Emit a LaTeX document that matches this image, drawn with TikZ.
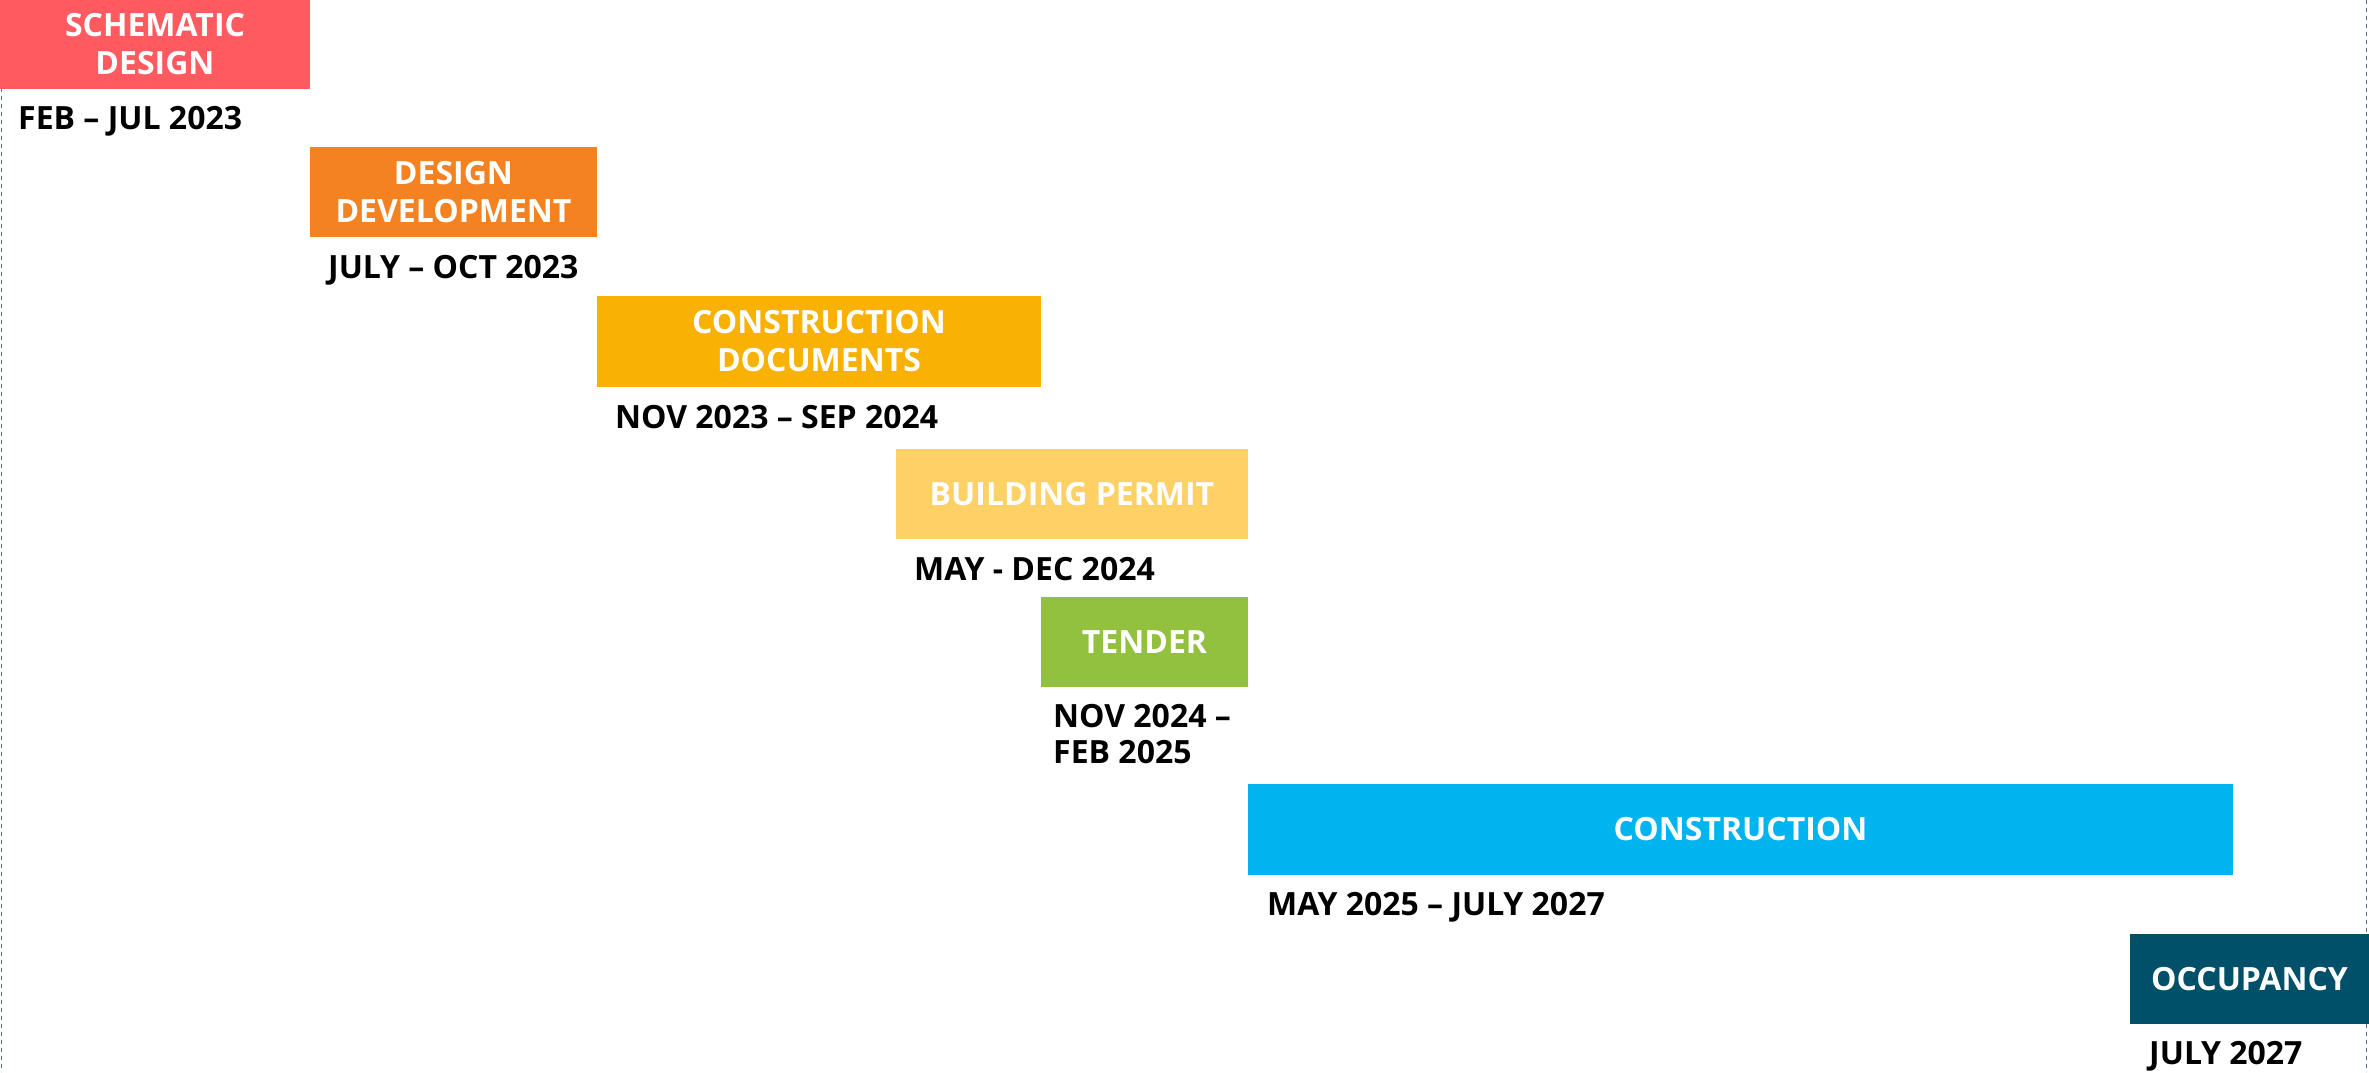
\documentclass[tikz,border=0pt]{standalone}
\usepackage{fontspec}
\setmainfont{Open Sans}
\definecolor{cSD}{HTML}{FF5A5F}
\definecolor{cDD}{HTML}{F58220}
\definecolor{cCD}{HTML}{F9B104}
\definecolor{cBP}{HTML}{FED166}
\definecolor{cTN}{HTML}{92C13F}
\definecolor{cCN}{HTML}{00B4EF}
\definecolor{cOC}{HTML}{00506A}
\definecolor{guidegray}{HTML}{5E6E82}
\begin{document}
\begin{tikzpicture}[x=1pt,y=-1pt,
  phase/.style={fill=#1, text=white, font=\bfseries\fontsize{32}{38}\selectfont,
    align=center, anchor=north west, inner sep=0pt, outer sep=0pt},
  when/.style={anchor=base west, font=\bfseries\fontsize{32}{36}\selectfont,
    text=black, inner sep=0pt, align=left},
  guide/.style={draw=guidegray, line width=1.1pt, dash pattern=on 4pt off 4pt}]
\useasboundingbox (0,0) rectangle (2369,1072);
% guide lines
\coordinate (gl1) at (1.5,0);
\coordinate (gl2) at (1.5,1072);
\coordinate (gr1) at (2366.5,0);
\coordinate (gr2) at (2366.5,1072);
\draw[guide] (gl1) -- (gl2);
\draw[guide] (gr1) -- (gr2);
% phases
\node[phase=cSD, minimum width=310pt, minimum height=89pt] (sd) at (0,0) {SCHEMATIC\\DESIGN};
\node[phase=cDD, minimum width=287pt, minimum height=90pt] (dd) at (310,147) {DESIGN\\DEVELOPMENT};
\node[phase=cCD, minimum width=444pt, minimum height=91pt] (cd) at (597,296) {CONSTRUCTION\\DOCUMENTS};
\node[phase=cBP, minimum width=352pt, minimum height=90pt] (bp) at (896,449) {BUILDING PERMIT};
\node[phase=cTN, minimum width=207pt, minimum height=90pt] (tn) at (1041,597) {TENDER};
\node[phase=cCN, minimum width=985pt, minimum height=91pt] (cn) at (1248,784) {CONSTRUCTION};
\node[phase=cOC, minimum width=239pt, minimum height=90pt] (oc) at (2130,934) {OCCUPANCY};
% dates
\node[when] (sdd) at (18,129) {FEB – JUL 2023};
\node[when] (ddd) at (328,278) {JULY – OCT 2023};
\node[when] (cdd) at (615,428) {NOV 2023 – SEP 2024};
\node[when] (bpd) at (914,580) {MAY - DEC 2024};
\node[when] (tnd) at (1053,763) {NOV 2024 –\\FEB 2025};
\node[when] (cnd) at (1267,915) {MAY 2025 – JULY 2027};
\node[when] (ocd) at (2149,1064) {JULY 2027};
\end{tikzpicture}
\end{document}
